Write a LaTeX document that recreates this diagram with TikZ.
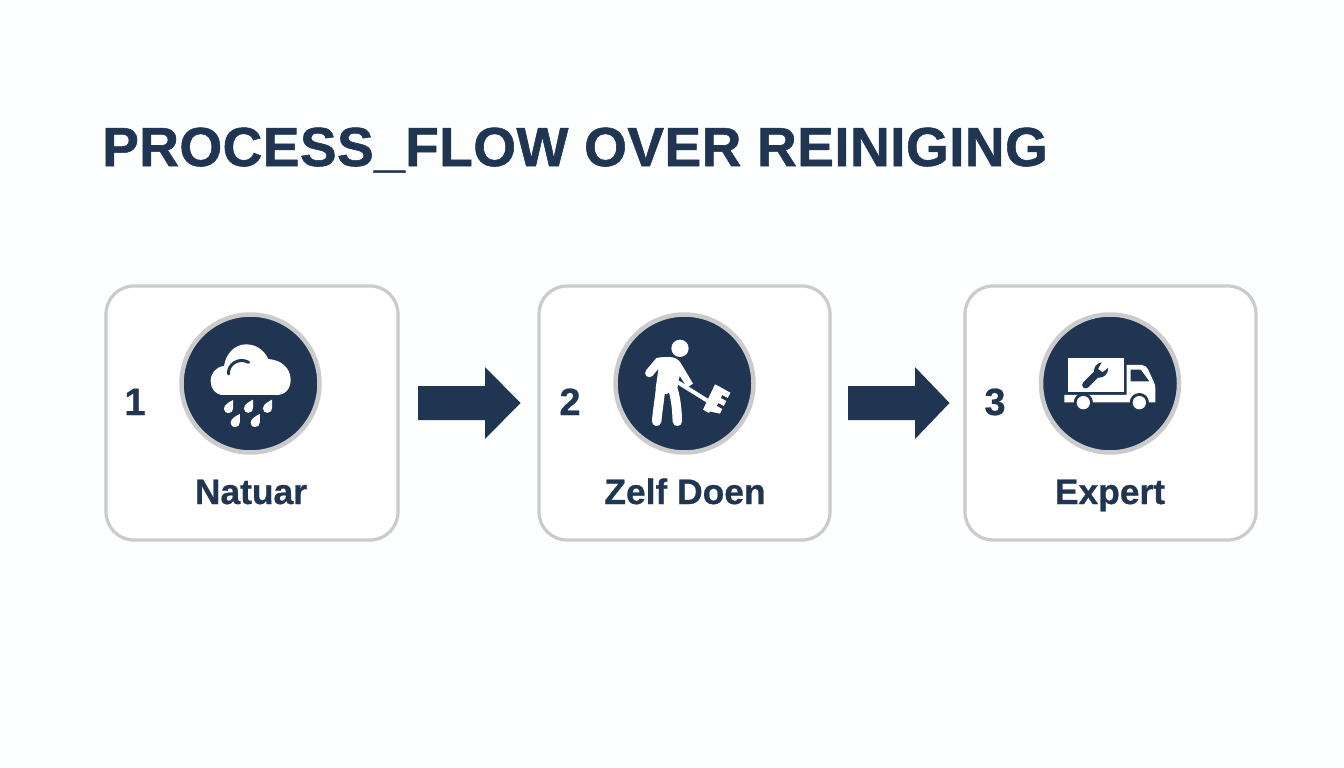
\documentclass[tikz,border=0pt]{standalone}
\usepackage{fontspec}
\setmainfont[BoldFeatures={FakeBold=0.6}]{Liberation Sans}
\newfontfamily\titlefont[LetterSpace=0.8,BoldFeatures={FakeBold=1.0}]{Liberation Sans}
\definecolor{navy}{HTML}{1F3551}
\definecolor{ringgrey}{HTML}{CBCBCB}
\definecolor{pagebg}{HTML}{FDFEFE}
\tikzset{
  card/.style={draw=ringgrey,line width=3.2pt,fill=white,rounded corners=28pt},
  disc/.style={circle,draw=ringgrey,line width=4.5pt,fill=navy,minimum size=138pt,inner sep=0pt},
  flow/.style={fill=navy,draw=none},
  num/.style={font=\bfseries\fontsize{38}{38}\selectfont,text=navy,anchor=base,inner sep=0pt},
  caplabel/.style={font=\bfseries\fontsize{35.4}{35.4}\selectfont,text=navy,anchor=base,inner sep=0pt},
  ttl/.style={font=\titlefont\bfseries\fontsize{55}{55}\selectfont,text=navy,anchor=base west,inner sep=0pt},
  ico/.style={x=0.3333pt,y=-0.3333pt}
}
\newcommand{\drop}[2]{\fill[white,shift={(#1,#2)},scale=1.1] (13,-21) .. controls (6,-17) and (-12,-9) .. (-12,3) .. controls (-12,11) and (-6,15) .. (0,15) .. controls (8,15) and (13,9) .. (13,2) .. controls (13,-6) and (13,-14) .. (13,-21) -- cycle;}
\begin{document}
\begin{tikzpicture}[x=1pt,y=-1pt]
\useasboundingbox (0,0) rectangle (1344,768);
\fill[pagebg] (0,0) rectangle (1344,768);
\node[ttl] (title) at (102,166) {PROCESS\_FLOW OVER REINIGING};

\node[card,minimum width=292pt,minimum height=254pt] (c1) at (252,413) {};
\node[card,minimum width=291pt,minimum height=254pt] (c2) at (684.5,413) {};
\node[card,minimum width=291pt,minimum height=254pt] (c3) at (1110.5,413) {};

\node[disc] (d1) at (250.5,383.5) {};
\node[disc] (d2) at (684.5,383.5) {};
\node[disc] (d3) at (1110,383.5) {};

\node[num] (n1) at (135,415) {1};
\node[num] (n2) at (570,415) {2};
\node[num] (n3) at (995,415) {3};
\node[caplabel] (l1) at (251,504) {Natuar};
\node[caplabel] (l2) at (685,504) {Zelf Doen};
\node[caplabel] (l3) at (1110,504) {Expert};

% arrows
\fill[flow] (418,386) -- (485,386) -- (485,367) -- (520.5,403) -- (485,439) -- (485,420) -- (418,420) -- cycle;
\fill[flow] (848,386) -- (915,386) -- (915,367) -- (949.5,403) -- (915,439) -- (915,420) -- (848,420) -- cycle;

% cloud
\begin{scope}[shift={(170,305)}]\begin{scope}[ico]
  \fill[white] (160,270) .. controls (135,270) and (122,250) .. (122,228) .. controls (122,205) and (138,185) .. (162,183)
     .. controls (168,145) and (195,118) .. (228,118) .. controls (258,118) and (282,135) .. (295,162)
     .. controls (335,165) and (362,190) .. (362,225) .. controls (362,252) and (345,270) .. (320,270) -- cycle;
  \draw[navy,line width=3pt,line cap=round] (176,207) .. controls (172,180) and (205,155) .. (236,172);
  \drop{175}{308}\drop{235}{307}\drop{292}{307}\drop{195}{350}\drop{255}{350}
\end{scope}\end{scope}

% person
\begin{scope}[shift={(605,305)}]\begin{scope}[ico]
  \fill[white] (225,130) circle (26);
  % torso
  \fill[white] (152,160) .. controls (165,155) and (195,155) .. (207,158) .. controls (220,162) and (226,172) .. (232,182) -- (264,236) -- (246,248) -- (224,212) -- (218,245) -- (184,268) -- (152,250) -- (160,195) -- cycle;
  % left arm, legs
  \draw[white,line width=8.5pt,line cap=round,line join=round] (160,172) -- (133,204);
  \draw[white,line width=9.5pt,line cap=round,line join=round] (168,240) .. controls (164,280) and (158,315) .. (155,349);
  \draw[white,line width=9.5pt,line cap=round,line join=round] (200,240) .. controls (212,275) and (216,310) .. (217,349);
  % broom
  \draw[white,line width=4pt,line cap=round] (222,234) -- (312,290);
  \fill[white] (330,238) -- (346,247) -- (312,324) -- (294,314) -- cycle;
  \fill[white] (338,242) -- (376,263) -- (368,279) -- (352,270) -- (347,279) -- (364,288) -- (356,303) -- (340,294) -- (335,303) -- (352,312) -- (345,326) -- (308,318) -- cycle;
\end{scope}\end{scope}

% truck
\begin{scope}[shift={(1030,305)}]\begin{scope}[ico]
  \fill[white] (115,158) -- (282,158) -- (282,262) -- (115,262) -- cycle;
  \fill[white] (103,270) -- (290,270) -- (290,180) -- (335,180) .. controls (345,180) and (350,186) .. (354,193) -- (372,232) .. controls (375,238) and (376,244) .. (376,250) -- (376,292) -- (103,292) -- cycle;
  \fill[navy] (302,194) -- (332,194) -- (358,229) -- (302,229) -- cycle;
  \fill[navy] (160,293) circle (29);
  \fill[navy] (328,293) circle (29);
  \fill[white] (160,293) circle (20);
  \fill[white] (328,293) circle (20);
  % wrench
  \draw[navy,line width=7pt,line cap=round] (167,240) -- (200,207);
  \fill[navy] (215,172) .. controls (198,174) and (188,190) .. (193,208) -- (205,218) .. controls (220,220) and (235,208) .. (235,188) -- (218,202) -- (204,192) -- cycle;
\end{scope}\end{scope}
\end{tikzpicture}
\end{document}
